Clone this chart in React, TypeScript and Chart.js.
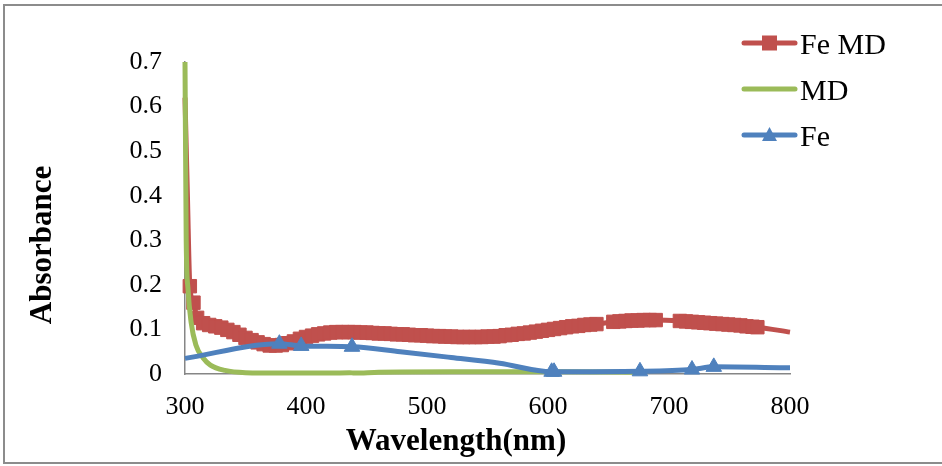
import { useEffect, useRef } from 'react';
import { Chart, registerables } from 'chart.js';

Chart.register(...registerables);

const FONT = '"Liberation Serif", "Times New Roman", serif';

// ---- Data ----
const feMdWavelength = [
  300, 302, 304, 307, 310, 315, 320, 325, 330, 335, 340, 345, 350, 355, 360, 365, 370, 375, 380, 385,
  390, 395, 400, 405, 410, 415, 420, 425, 430, 435, 440, 445, 450, 455, 460, 465, 470, 475, 480, 485,
  490, 495, 500, 505, 510, 515, 520, 525, 530, 535, 540, 545, 550, 555, 560, 565, 570, 575, 580, 585,
  590, 595, 600, 605, 610, 615, 620, 625, 630, 635, 640, 654, 659, 664, 669, 674, 679, 684, 689, 709,
  714, 719, 724, 729, 734, 739, 744, 749, 754, 759, 764, 769, 773, 800,
];
const feMdAbs = [
  0.62, 0.4, 0.197, 0.16, 0.126, 0.114, 0.11, 0.107, 0.104, 0.099, 0.094, 0.088, 0.081, 0.076, 0.071, 0.067, 0.064, 0.064, 0.065, 0.069,
  0.073, 0.079, 0.083, 0.086, 0.089, 0.091, 0.093, 0.094, 0.094, 0.094, 0.094, 0.093, 0.093, 0.092, 0.091, 0.091, 0.09, 0.089, 0.089, 0.088,
  0.087, 0.087, 0.086, 0.085, 0.085, 0.084, 0.084, 0.083, 0.083, 0.083, 0.083, 0.083, 0.084, 0.084, 0.085, 0.087, 0.088, 0.09, 0.091, 0.093,
  0.095, 0.097, 0.099, 0.101, 0.103, 0.105, 0.107, 0.108, 0.11, 0.111, 0.112, 0.117, 0.118, 0.119, 0.12, 0.12, 0.121, 0.121, 0.121, 0.119,
  0.118, 0.117, 0.116, 0.115, 0.114, 0.113, 0.112, 0.111, 0.11, 0.109, 0.107, 0.106, 0.105, 0.094,
];
const feMdNoMarker = [300, 302, 800];

const mdWavelength = [300, 301, 302.5, 305, 309, 315, 321, 333, 350, 380, 420, 436, 440, 460, 520, 600, 672];
const mdAbs = [0.7, 0.3, 0.19, 0.117, 0.065, 0.036, 0.02, 0.008, 0.003, 0.002, 0.002, 0.003, 0.002, 0.004, 0.005, 0.005, 0.004];

const feWavelength = [300, 378, 396, 438, 478, 520, 560, 603, 605, 676, 719, 737, 800];
const feAbs = [0.035, 0.068, 0.063, 0.061, 0.05, 0.037, 0.024, 0.005, 0.005, 0.006, 0.01, 0.016, 0.014];
const feNoMarker = [300, 478, 520, 560, 800];

const xTitle = 'Wavelength(nm)';
const yTitle = 'Absorbance';
const legendLabels = ['Fe MD', 'MD', 'Fe'];

const RED = '#C0504D';
const GREEN = '#9BBB59';
const BLUE = '#4F81BD';

const toPoints = (xs: number[], ys: number[]) => xs.map((x, i) => ({ x, y: ys[i] }));

const decor = {
  id: 'decor',
  afterDraw(chart: any) {
    const ctx = chart.ctx as CanvasRenderingContext2D;
    ctx.save();
    // axis titles
    ctx.fillStyle = '#000';
    ctx.font = `bold 31px ${FONT}`;
    ctx.textAlign = 'center';
    ctx.textBaseline = 'alphabetic';
    ctx.fillText(xTitle, 456, 450);
    ctx.save();
    ctx.translate(51, 245);
    ctx.rotate(-Math.PI / 2);
    ctx.fillText(yTitle, 0, 0);
    ctx.restore();

    // legend
    const colors = [RED, GREEN, BLUE];
    const styles = ['rect', 'none', 'triangle'];
    const rows = [43, 89, 135];
    for (let i = 0; i < legendLabels.length; i++) {
      const y = rows[i];
      ctx.strokeStyle = colors[i];
      ctx.lineWidth = 5;
      ctx.lineCap = 'round';
      ctx.beginPath();
      ctx.moveTo(744, y);
      ctx.lineTo(795, y);
      ctx.stroke();
      ctx.fillStyle = colors[i];
      if (styles[i] === 'rect') {
        ctx.fillRect(762, y - 7.5, 15, 15);
      } else if (styles[i] === 'triangle') {
        ctx.beginPath();
        ctx.moveTo(769.5, y - 8);
        ctx.lineTo(777, y + 6);
        ctx.lineTo(762, y + 6);
        ctx.closePath();
        ctx.fill();
      }
      ctx.fillStyle = '#000';
      ctx.font = `30px ${FONT}`;
      ctx.textAlign = 'left';
      ctx.textBaseline = 'alphabetic';
      ctx.fillText(legendLabels[i], 800, y + 11);
    }
    ctx.restore();
  },
};

export default function App() {
  const ref = useRef<HTMLCanvasElement>(null);

  useEffect(() => {
    const canvas = ref.current;
    if (!canvas) return;
    const chart = new Chart(canvas, {
      type: 'line',
      data: {
        datasets: [
          {
            label: legendLabels[2],
            data: toPoints(feWavelength, feAbs),
            borderColor: BLUE,
            backgroundColor: BLUE,
            borderWidth: 5,
            pointStyle: 'triangle',
            pointRadius: (c: any) => (feNoMarker.includes(c.raw?.x) ? 0 : 9),
            pointBorderWidth: 1,
            cubicInterpolationMode: 'monotone',
            clip: false,
            order: 0,
          },
          {
            label: legendLabels[1],
            data: toPoints(mdWavelength, mdAbs),
            borderColor: GREEN,
            backgroundColor: GREEN,
            borderWidth: 5,
            pointRadius: 0,
            cubicInterpolationMode: 'monotone',
            clip: false,
            order: 1,
          },
          {
            label: legendLabels[0],
            data: toPoints(feMdWavelength, feMdAbs),
            borderColor: RED,
            backgroundColor: RED,
            borderWidth: 5,
            pointStyle: 'rect',
            pointRadius: (c: any) => (feMdNoMarker.includes(c.raw?.x) ? 0 : 9.5),
            pointBorderWidth: 1,
            cubicInterpolationMode: 'monotone',
            clip: false,
            order: 2,
          },
        ],
      } as any,
      options: {
        animation: false,
        responsive: false,
        events: [],
        layout: { padding: { left: 0, right: 152, top: 62, bottom: 0 } },
        plugins: { legend: { display: false }, tooltip: { enabled: false } },
        scales: {
          x: {
            type: 'linear',
            min: 300,
            max: 800,
            ticks: { stepSize: 100, color: '#000', font: { family: FONT, size: 26 }, padding: 18 },
            grid: { display: false, drawTicks: false },
            border: { display: true, color: '#868686', width: 1.5 },
            afterFit: (s: any) => {
              s.height = 92;
            },
          },
          y: {
            type: 'linear',
            min: 0,
            max: 0.7,
            ticks: { stepSize: 0.1, color: '#000', font: { family: FONT, size: 26 }, padding: 23 },
            grid: { display: false, drawTicks: false },
            border: { display: true, color: '#868686', width: 1.5 },
            afterFit: (s: any) => {
              s.width = 185;
            },
          },
        },
      } as any,
      plugins: [decor],
    });
    return () => chart.destroy();
  }, []);

  return (
    <div style={{ position: 'fixed', left: 0, top: 0, width: 942, height: 466, overflow: 'hidden', background: '#fff' }}>
      <canvas ref={ref} width={942} height={466} style={{ display: 'block', width: 942, height: 466 }} />
      <div
        style={{
          position: 'absolute',
          left: 3,
          top: 4,
          width: 980,
          height: 460,
          border: '2px solid #8c8c8c',
          boxSizing: 'border-box',
          pointerEvents: 'none',
        }}
      />
    </div>
  );
}
